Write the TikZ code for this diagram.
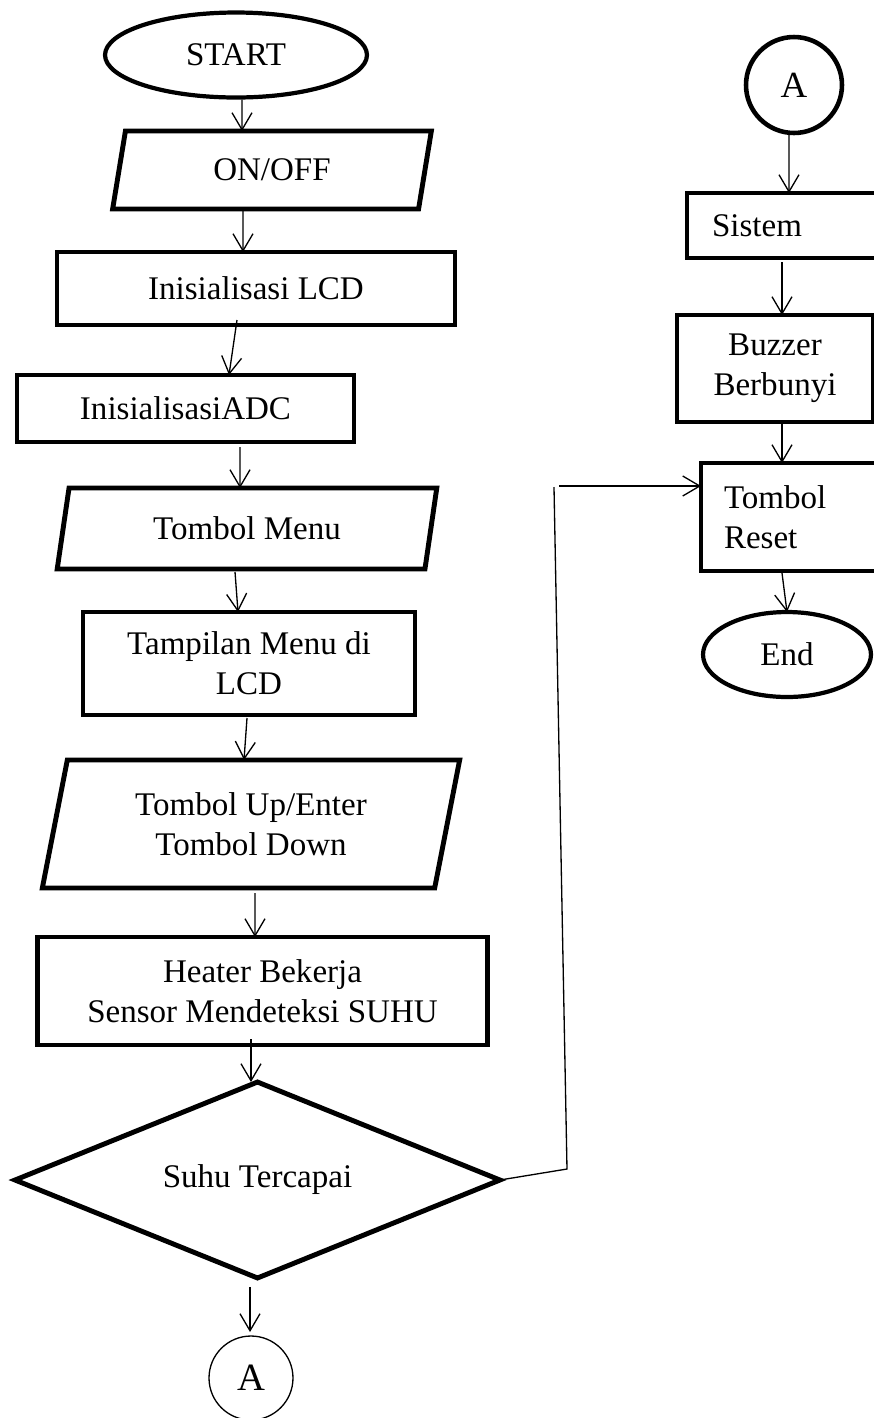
\documentclass[tikz,border=0pt]{standalone}
\usepackage{fontspec}
\setmainfont{Liberation Serif}
\usetikzlibrary{arrows.meta,positioning,calc,shapes.geometric}

\begin{document}
\begin{tikzpicture}[
  x=0.02cm, y=-0.02cm,
  every node/.style={font=\fontsize{18.8}{22.7}\selectfont, inner sep=0pt, outer sep=0pt},
  box/.style={draw, line width=2.8pt, rectangle, align=center},
  boxl/.style={draw, line width=2.8pt, rectangle, align=left},
  io/.style={draw, line width=2.8pt, trapezium, trapezium stretches=true, align=center},
  term/.style={draw, line width=2.4pt, ellipse},
  cond/.style={draw, line width=2.8pt, diamond, aspect=2.5},
  conn/.style={draw, circle},
  arr/.style={-{Straight Barb[length=3.4mm,width=4mm]}, line width=0.75pt},
  link/.style={line width=0.75pt}
]
\useasboundingbox (0,0) rectangle (874,1418);
\clip (0,0) rectangle (874,1418);

% main column
\node[term, minimum width=5.24cm, minimum height=1.7cm] (start) at (236,55) {START};
\node[io, trapezium left angle=77, trapezium right angle=103,
      minimum width=6.4cm, minimum height=1.56cm] (onoff) at (272,170) {ON/OFF};
\node[box, minimum width=7.96cm, minimum height=1.46cm] (lcd) at (256,288.5) {Inisialisasi LCD};
\node[box, minimum width=6.74cm, minimum height=1.34cm] (adc) at (185.5,408.5) {InisialisasiADC};
\node[io, trapezium left angle=75, trapezium right angle=105,
      minimum width=7.6cm, minimum height=1.62cm] (menu) at (247,528.5) {Tombol Menu};
\node[box, minimum width=6.64cm, minimum height=2.06cm] (tampil) at (249,663.5) {Tampilan Menu di\\LCD};
\node[io, trapezium left angle=76, trapezium right angle=104,
      minimum width=8.36cm, minimum height=2.56cm] (updown) at (251,824) {Tombol Up/Enter\\Tombol Down};
\node[box, minimum width=9.02cm, minimum height=2.16cm] (heater) at (262.5,991) {Heater Bekerja\\Sensor Mendeteksi SUHU};
\node[cond, minimum width=9.7cm, minimum height=3.92cm] (cek) at (257.5,1180) {Suhu Tercapai};
\node[conn, line width=0.75pt, minimum size=1.68cm, font=\fontsize{22}{26}\selectfont] (ab) at (251,1378) {A};

% right column
\node[conn, line width=2.6pt, minimum size=1.92cm, font=\fontsize{21}{25}\selectfont] (at) at (794,85) {A};
\node[boxl, minimum width=4.06cm, minimum height=1.3cm, inner xsep=0.5cm, text width=3.06cm] (sistem) at (788.5,225.5) {Sistem};
\node[box, minimum width=3.92cm, minimum height=2.14cm] (buzzer) at (775,368.5) {Buzzer\\Berbunyi};
\node[boxl, minimum width=3.78cm, minimum height=2.16cm, inner xsep=0.46cm, text width=2.86cm] (reset) at (795.5,517) {Tombol\\Reset};
\node[term, minimum width=3.36cm, minimum height=1.7cm] (stop) at (787,654.5) {End};

% flow
\draw[arr] ($(start.south)+(6,2)$) -- ($(onoff.north)+(-30,0)$);
\draw[arr] ($(onoff.south)+(-29,1)$) -- ($(lcd.north)+(-13,0)$);
\draw[arr] ($(lcd.south)+(-19,-5)$) -- ($(adc.north)+(43.5,0)$);
\draw[arr] ($(adc.south)+(54.5,5)$) -- ($(menu.north)+(-7,0)$);
\draw[arr] ($(menu.south)+(-12,3)$) -- ($(tampil.north)+(-11,0)$);
\draw[arr] ($(tampil.south)+(-2,3)$) -- ($(updown.north)+(-7,0)$);
\draw[arr] ($(updown.south)+(4,5)$) -- ($(heater.north)+(-7.5,0)$);
\draw[arr] ($(heater.south)+(-11.5,-6)$) -- ($(cek.north)+(-6.5,0)$);
\draw[arr] ($(cek.south)+(-7.5,9)$) -- ($(ab.north)+(-1,-4)$);

\draw[arr] ($(at.south)+(-5,0)$) -- ($(sistem.north)+(0.5,0)$);
\draw[arr] ($(sistem.south)+(-6.5,4)$) -- ($(buzzer.north)+(7,0)$);
\draw[arr] ($(buzzer.south)+(7,0)$) -- ($(reset.north)+(-13.5,0)$);
\draw[arr] ($(reset.south)+(-13.5,2)$) -- (stop.north);

% back line from the decision to the reset button
\coordinate (b1) at (567,1169);
\coordinate (b2) at (554,487);
\coordinate (b3) at (559,486);
\draw[link] (cek.east) -- (b1) -- (b2);
\draw[arr] (b3) -- (b3 -| reset.west);

\end{tikzpicture}
\end{document}
